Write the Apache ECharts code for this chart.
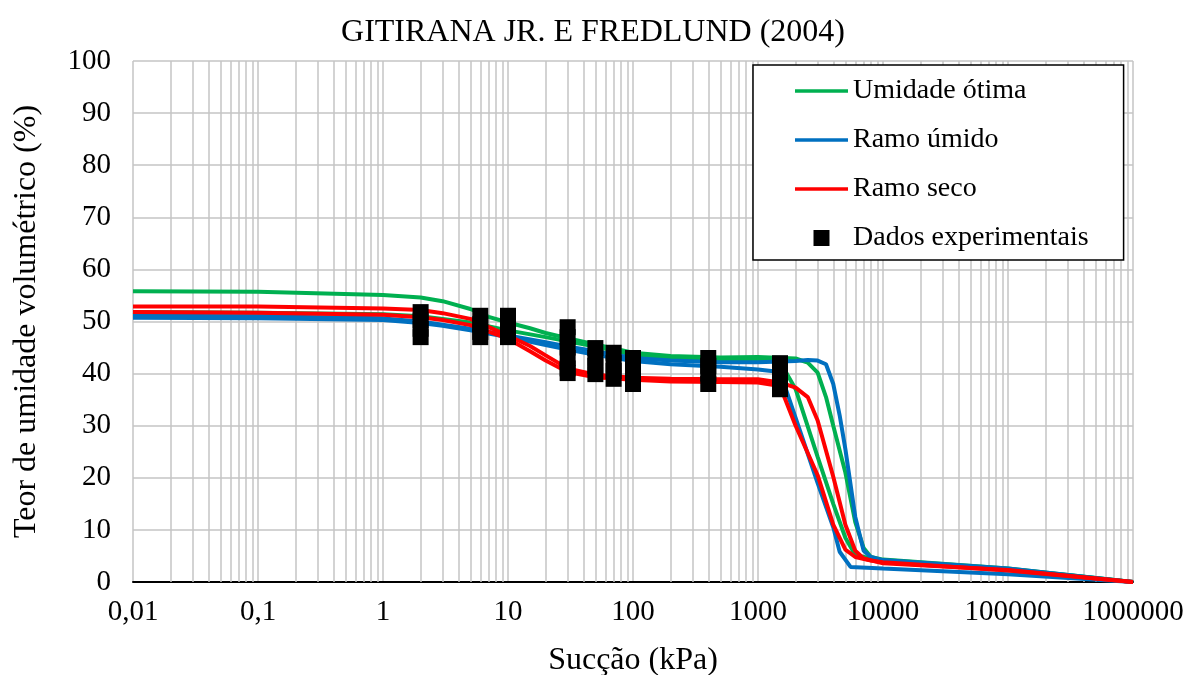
<!DOCTYPE html>
<html>
<head>
<meta charset="utf-8">
<script src="https://cdn.jsdelivr.net/npm/echarts@6/dist/echarts.min.js"></script>
<style>
  html, body { margin: 0; padding: 0; background: #ffffff; }
  #chart { width: 1186px; height: 675px; }
</style>
</head>
<body>
<div id="chart"></div>
<script>
// Soil-water characteristic curves, Gitirana Jr. & Fredlund (2004) fit
const FONT = '"Liberation Serif", "Times New Roman", Times, serif';

const titleText = 'GITIRANA JR. E FREDLUND (2004)';
const xName = 'Sucção (kPa)';
const yName = 'Teor de umidade volumétrico (%)';
const legendNames = ['Umidade ótima', 'Ramo úmido', 'Ramo seco', 'Dados experimentais'];

// [suction kPa, volumetric water content %]
const otimaA = [[0.01,55.8],[0.1,55.7],[1,55.1],[2,54.6],[3,53.9],[5,52.4],[7,50.9],[10,49.8],[15,48.7],[20,47.8],[30,46.8],[50,45.6],[100,44.0],[200,43.4],[500,43.1],[1000,43.2],[2000,42.9],[2500,42.1],[3000,40.2],[3500,35.5],[4000,30.0],[5000,21.0],[6000,11.5],[7000,6.5],[8000,4.8],[10000,4.3],[100000,2.6],[1000000,0]];
const otimaB = [[0.01,51.8],[0.1,51.7],[1,51.4],[2,51.0],[3,50.5],[5,49.8],[10,48.3],[20,47.0],[30,46.2],[50,45.2],[100,43.6],[200,43.0],[500,42.8],[1000,42.8],[1500,42.3],[2000,37.0],[3000,24.0],[4000,15.0],[5000,8.5],[6000,5.2],[8000,4.5],[10000,4.1],[100000,2.5],[1000000,0]];
const umidoA = [[0.01,51.1],[0.1,51.0],[1,50.6],[2,50.0],[3,49.4],[5,48.6],[10,47.3],[20,46.0],[30,45.2],[50,44.3],[100,43.0],[200,42.5],[500,42.2],[1000,42.2],[2000,42.4],[2500,42.6],[3000,42.5],[3500,41.8],[4000,38.0],[4500,32.0],[5000,25.5],[6000,12.5],[7000,6.0],[8000,4.8],[10000,4.2],[100000,2.6],[1000000,0]];
const umidoB = [[0.01,50.7],[0.1,50.6],[1,50.3],[2,49.7],[3,49.2],[5,48.3],[10,47.0],[20,45.5],[30,44.6],[50,43.6],[100,42.4],[200,41.8],[500,41.3],[1000,40.8],[1500,40.3],[1700,36.5],[2000,31.5],[3000,19.0],[4000,10.5],[4500,5.8],[5500,2.9],[10000,2.6],[100000,1.5],[1000000,0]];
const secoA = [[0.01,52.9],[0.1,52.9],[1,52.5],[2,52.2],[3,51.6],[5,50.5],[10,47.3],[15,45.3],[20,43.5],[30,41.0],[50,39.8],[100,39.2],[200,39.0],[500,38.9],[1000,38.9],[1500,38.3],[2000,37.3],[2500,35.5],[3000,31.0],[4000,20.2],[5000,11.0],[6000,6.0],[7000,4.5],[10000,3.6],[100000,2.3],[1000000,0]];
const secoB = [[0.01,51.8],[0.1,51.7],[1,51.3],[2,50.8],[3,50.3],[5,49.3],[10,46.7],[15,44.3],[20,42.5],[30,40.3],[50,39.3],[100,38.8],[200,38.5],[500,38.4],[1000,38.3],[1500,37.6],[2000,30.0],[3000,20.5],[4000,11.0],[5000,6.2],[6000,4.8],[8000,4.1],[10000,3.8],[100000,2.2],[1000000,0]];

// measured points (several specimens per suction level)
const dados = [
  [2,51.8],[2,50.2],[2,48.6],[2,47.0],
  [6,51.1],[6,49.5],[6,48.0],[6,47.0],
  [10,51.1],[10,49.5],[10,48.0],[10,47.0],
  [30,48.9],[30,47.0],[30,45.0],[30,43.0],[30,41.0],[30,40.1],
  [50,44.9],[50,43.0],[50,41.5],[50,39.9],
  [70,44.0],[70,42.0],[70,40.5],[70,39.0],
  [100,43.0],[100,42.0],[100,39.0],[100,38.0],
  [400,43.0],[400,41.5],[400,40.0],[400,38.0],
  [1500,42.0],[1500,40.5],[1500,39.0],[1500,37.0]
];

const GREEN = '#00B050', BLUE = '#0070C0', RED = '#FF0000';
const GRID = '#C4C4C4';

// intermediate log grid lines (2..9 in each decade)
const minorLines = [];
for (let e = -2; e < 6; e++) {
  for (let m = 2; m <= 9; m++) minorLines.push({ xAxis: m * Math.pow(10, e) });
}

function fmtX(v) {
  if (v < 1) return String(+v.toPrecision(3)).replace('.', ',');
  return String(Math.round(v));
}

function curve(name, data, color) {
  return {
    name: name, type: 'line', data: data,
    symbol: 'none', showSymbol: false, smooth: false,
    lineStyle: { color: color, width: 4 }, itemStyle: { color: color },
    z: 3, animation: false, silent: true
  };
}

// legend swatches: a flat bar for the curves, a square for the measurements
const LINE_ICON = 'path://M0,0H106V7H0Z';
const SQUARE_ICON = 'path://M0,0H10V10H0Z';

const chart = echarts.init(document.getElementById('chart'), null, { renderer: 'canvas' });
chart.setOption({
  backgroundColor: '#ffffff',
  animation: false,
  title: {
    text: titleText, left: 'center', top: 12,
    textStyle: { fontFamily: FONT, fontSize: 32, fontWeight: 'normal', color: '#000' }
  },
  grid: { left: 133, right: 53, top: 61, bottom: 93, containLabel: false, outerBoundsMode: 'none' },
  legend: {
    orient: 'vertical', left: 753, top: 65,
    data: [
      { name: legendNames[0], icon: LINE_ICON },
      { name: legendNames[1], icon: LINE_ICON },
      { name: legendNames[2], icon: LINE_ICON },
      { name: legendNames[3], icon: SQUARE_ICON }
    ],
    itemWidth: 53, itemHeight: 16, itemGap: 19,
    symbolKeepAspect: true,
    padding: [11, 35, 7, 42],
    borderColor: '#000', borderWidth: 1.5, borderRadius: 0, backgroundColor: '#fff',
    selectedMode: false,
    textStyle: { fontFamily: FONT, fontSize: 28, color: '#000', lineHeight: 30 }
  },
  xAxis: {
    type: 'log', logBase: 10, min: 0.01, max: 1000000,
    name: xName, nameLocation: 'middle', nameGap: 63,
    nameTextStyle: { fontFamily: FONT, fontSize: 32, color: '#000' },
    axisLine: { show: true, onZero: false, lineStyle: { color: '#000', width: 2 } },
    axisTick: { show: false },
    axisLabel: { formatter: fmtX, fontFamily: FONT, fontSize: 29, color: '#000', margin: 16 },
    splitLine: { show: true, lineStyle: { color: GRID, width: 1.5 } }
  },
  yAxis: {
    type: 'value', min: 0, max: 100, interval: 10,
    name: yName, nameLocation: 'middle', nameGap: 90, nameRotate: 90,
    nameTextStyle: { fontFamily: FONT, fontSize: 32, color: '#000' },
    axisLine: { show: false }, axisTick: { show: false },
    axisLabel: { fontFamily: FONT, fontSize: 29, color: '#000', margin: 22 },
    splitLine: { show: true, lineStyle: { color: GRID, width: 1.5 } }
  },
  series: [
    {
      name: 'grade', type: 'line', data: [], silent: true, z: 1,
      markLine: {
        z: 1, silent: true, animation: false, symbol: ['none', 'none'],
        label: { show: false }, emphasis: { disabled: true },
        lineStyle: { color: GRID, width: 1.5, type: 'solid' },
        data: minorLines
      }
    },
    curve(legendNames[0], otimaA, GREEN),
    curve(legendNames[0], otimaB, GREEN),
    curve(legendNames[1], umidoA, BLUE),
    curve(legendNames[1], umidoB, BLUE),
    curve(legendNames[2], secoA, RED),
    curve(legendNames[2], secoB, RED),
    {
      name: legendNames[3], type: 'scatter', data: dados,
      symbol: 'rect', symbolSize: [16, 16],
      itemStyle: { color: '#000', opacity: 1, borderWidth: 0 },
      z: 5, silent: true, animation: false
    }
  ]
});
</script>
</body>
</html>
